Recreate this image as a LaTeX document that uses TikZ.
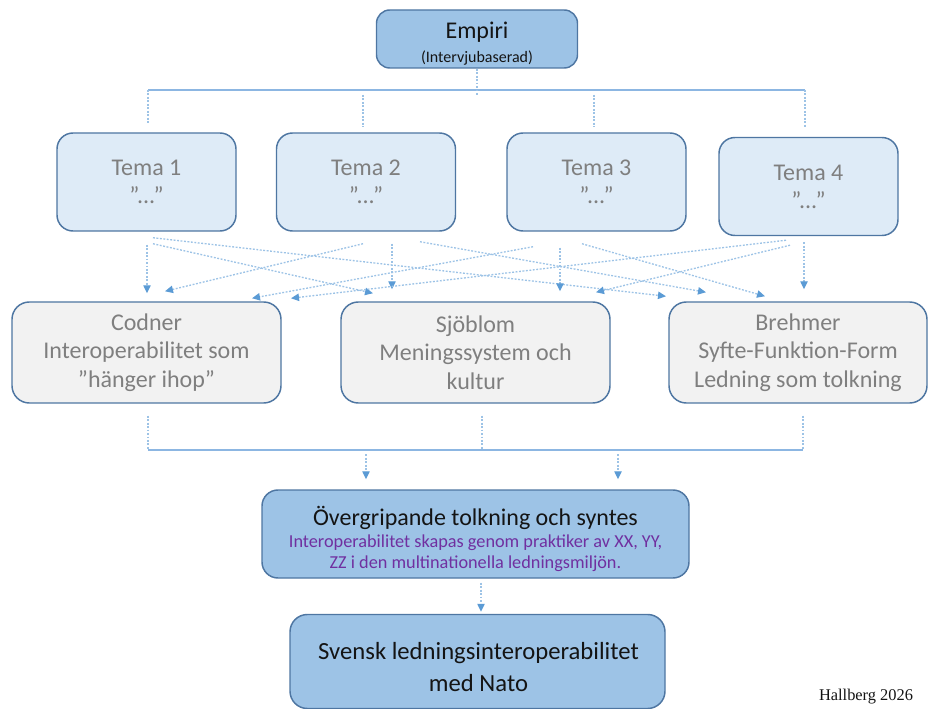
\documentclass[tikz,border=0pt]{standalone}
\usepackage{fontspec}
\setmainfont{Carlito}
\newfontfamily\signfont{Liberation Serif}
\usetikzlibrary{arrows.meta,calc}

\definecolor{empfill}{RGB}{157,195,230}
\definecolor{temafill}{RGB}{222,235,247}
\definecolor{teorifill}{RGB}{242,242,242}
\definecolor{boxedge}{RGB}{78,118,162}
\definecolor{graytext}{RGB}{127,127,127}
\definecolor{darktext}{RGB}{20,20,20}
\definecolor{linkblue}{RGB}{157,195,230}
\definecolor{barblue}{RGB}{140,182,226}
\definecolor{tipblue}{RGB}{91,155,213}
\definecolor{synpurple}{RGB}{112,48,160}

\tikzset{
  box/.style={draw=boxedge, line width=1.1pt, align=center, inner sep=0pt},
  empbox/.style={box, fill=empfill, rounded corners=10pt, text=darktext},
  temabox/.style={box, fill=temafill, rounded corners=12pt, minimum width=134.25pt,
    minimum height=73.5pt, text=graytext, font=\fontsize{18}{21}\selectfont},
  teoribox/.style={box, fill=teorifill, rounded corners=13pt, minimum height=75.75pt,
    text=graytext, font=\fontsize{18}{21.5}\selectfont},
  boxtext/.style={align=center, inner sep=0pt},
  link/.style={draw=linkblue, line width=1pt, dash pattern=on 1.4pt off 1.2pt},
  flow/.style={link, -{Triangle[length=6pt,width=5.5pt,color=tipblue]}},
  bar/.style={draw=barblue, line width=1.2pt},
}

\begin{document}
\begin{tikzpicture}[x=0.75pt,y=-0.75pt]
    \useasboundingbox (0,0) rectangle (929,709);

    % Empiri and the four themes
    \node[empbox, minimum width=150.75pt, minimum height=43.5pt] (emp) at (477,39) {};
    \node[boxtext, text=darktext, font=\fontsize{12}{14}\selectfont] (emptext) at (477,44)
        {{\fontsize{18}{18}\selectfont Empiri}\\[4pt](Intervjubaserad)};
    \node[temabox] (t1) at (146.5,182) {Tema 1\\”...”};
    \node[temabox] (t2) at (366,182) {Tema 2\\”...”};
    \node[temabox] (t3) at (596.5,182) {Tema 3\\”...”};
    \node[temabox] (t4) at (808.5,186.5) {Tema 4\\”...”};

    \coordinate (topL) at (148,90);
    \coordinate (topR) at (805,90);
    \draw[bar] (topL) -- (topR);
    \draw[link] (emp.south) -- ($(emp.south |- topL)+(0,5)$);
    \draw[link] (topL) -- ($(t1.north)+(1.5,-8)$);
    \draw[link] ($(t2.north |- topL)+(-3,5)$) -- ($(t2.north)+(-3,-5)$);
    \draw[link] ($(t3.north |- topL)+(-2.5,5)$) -- ($(t3.north)+(-2.5,-5)$);
    \draw[link] (topR) -- ($(t4.north)+(-3.5,-10)$);

    % the three theories
    \node[teoribox, minimum width=201.75pt] (cod) at (146.5,352.5)
        {Codner\\Interoperabilitet som\\”hänger ihop”};
    \node[teoribox, minimum width=201.75pt] (sjo) at (475.5,352.5)
        {Sjöblom\\Meningssystem och\\kultur};
    \node[teoribox, minimum width=193.5pt] (bre) at (798,352.5)
        {Brehmer\\Syfte-Funktion-Form\\Ledning som tolkning};

    % Tema 1
    \draw[flow] ($(t1.south)+(0.5,13)$) -- ($(cod.north)+(0.5,-8)$);
    \draw[flow] ($(t1.south)+(6.5,12)$) -- ($(sjo.north)+(-102.5,-8)$);
    \draw[flow] ($(t1.south)+(6.5,6)$) -- ($(bre.north)+(-132,-5)$);
    % Tema 2
    \draw[flow] ($(t2.south)+(-3,12)$) -- ($(cod.north)+(18.5,-10)$);
    \draw[flow] ($(t2.south)+(26,12)$) -- ($(sjo.north)+(-83.5,-12)$);
    \draw[flow] ($(t2.south)+(54,10)$) -- ($(bre.north)+(-92,-9)$);
    % Tema 3
    \draw[flow] ($(t3.south)+(-63.5,15)$) -- ($(cod.north)+(105.5,-3)$);
    \draw[flow] ($(t3.south)+(-36.5,16)$) -- ($(sjo.north)+(84.5,-10)$);
    \draw[flow] ($(t3.south)+(-14.5,12)$) -- ($(bre.north)+(-33,-5)$);
    % Tema 4
    \draw[flow] ($(t4.south)+(-22.5,4)$) -- ($(cod.north)+(144.5,-3)$);
    \draw[flow] ($(t4.south)+(-18.5,9)$) -- ($(sjo.north)+(120.5,-9)$);
    \draw[flow] ($(t4.south)+(-4.5,6)$) -- ($(bre.north)+(6,-12)$);

    % synthesis
    \node[box, fill=empfill, rounded corners=12pt, minimum width=320.25pt, minimum height=66pt] (syn) at (475.5,534) {};
    \node[boxtext, text=synpurple, font=\fontsize{13.7}{15.5}\selectfont] (syntext) at (475.5,539)
        {{\fontsize{18}{18}\selectfont\color{darktext}Övergripande tolkning och syntes}\\[1pt]
         Interoperabilitet skapas genom praktiker av XX, YY,\\
         ZZ i den multinationella ledningsmiljön.};

    \coordinate (botL) at (148,450);
    \coordinate (botM) at (482,450);
    \coordinate (botR) at (803,450);
    \draw[bar] (botL) -- (botR);
    \draw[link] ($(cod.south)+(1.5,12)$) -- (botL);
    \draw[link] ($(sjo.south)+(6.5,12)$) -- (botM);
    \draw[link] ($(bre.south)+(5,12)$) -- (botR);
    \draw[flow] ($(syn.north)+(-109.5,-35)$) -- ($(syn.north)+(-109.5,-10)$);
    \draw[flow] ($(syn.north)+(142.5,-35)$) -- ($(syn.north)+(142.5,-10)$);

    % result
    \node[box, fill=empfill, rounded corners=13pt, minimum width=281.25pt, minimum height=70.5pt] (sv) at (477.5,661.5) {};
    \node[boxtext, text=darktext, font=\fontsize{18.5}{24}\selectfont] (svtext) at (478.5,667)
        {Svensk ledningsinteroperabilitet\\med Nato};
    \draw[flow] ($(syn.south)+(5.5,4)$) -- ($(sv.north)+(3.5,-2)$);

    \node[font=\signfont\fontsize{12.3}{14}\selectfont, text=darktext] (sign) at (866,697) {Hallberg 2026};
\end{tikzpicture}
\end{document}
